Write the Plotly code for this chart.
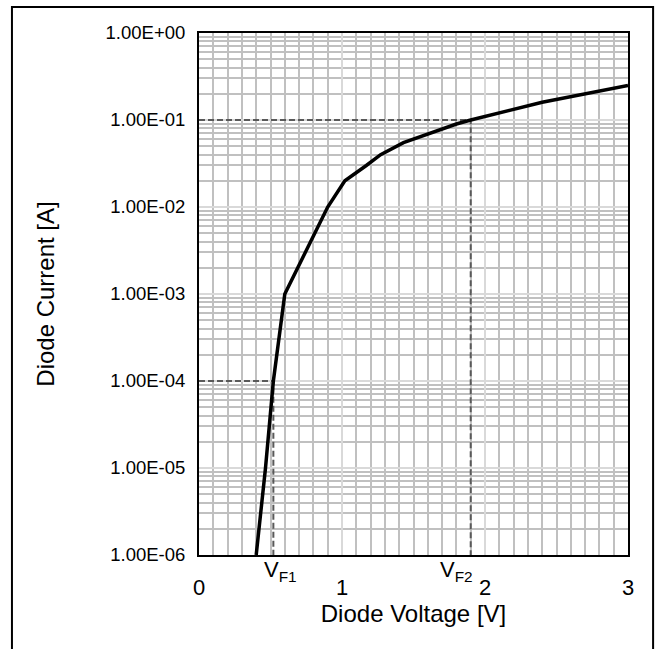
import plotly.graph_objects as go

# Diode forward characteristic (voltage in V, current in A)
voltage = [0.40, 0.465, 0.52, 0.60, 0.90, 1.02, 1.17, 1.27, 1.43, 1.61, 1.80, 1.90, 2.40, 3.00]
current = [1e-6, 1e-5, 1e-4, 1e-3, 1e-2, 2e-2, 3e-2, 4e-2, 5.5e-2, 7e-2, 9e-2, 1e-1, 1.6e-1, 2.5e-1]

# Forward-voltage reference points
vf_labels = ["V<sub>F1</sub>", "V<sub>F2</sub>"]
vf_voltage = [0.52, 1.90]
vf_current = [1e-4, 1e-1]

# Axis ticks
x_ticks = [0, 1, 2, 3]
y_ticks = [1e-6, 1e-5, 1e-4, 1e-3, 1e-2, 1e-1, 1]
y_tick_text = ["1.00E-06", "1.00E-05", "1.00E-04", "1.00E-03", "1.00E-02", "1.00E-01", "1.00E+00"]

FONT = "Liberation Sans, Arial, sans-serif"
Y_MIN = 1e-6

fig = go.Figure()

# dashed guide lines from each axis to the reference point
for v, i in zip(vf_voltage, vf_current):
    fig.add_trace(go.Scatter(
        x=[0, v, v], y=[i, i, Y_MIN], mode="lines",
        line=dict(color="#595959", width=2, dash="6px,3px"),
        hoverinfo="skip", showlegend=False,
    ))

fig.add_trace(go.Scatter(
    x=voltage, y=current, mode="lines",
    line=dict(color="black", width=3.5),
    showlegend=False,
))

# V_F1 sits just right of its guide, V_F2 just left of its guide
label_place = [dict(xanchor="left", xshift=-11), dict(xanchor="right", xshift=4)]
for lbl, v, place in zip(vf_labels, vf_voltage, label_place):
    fig.add_annotation(
        x=v, y=0, xref="x", yref="paper", text=lbl, showarrow=False,
        yanchor="top", yshift=0, **place,
        font=dict(family=FONT, size=22, color="black"),
    )

# outer frame around the whole chart
fig.add_shape(type="rect", xref="paper", yref="paper",
              x0=-0.436, x1=1.0585, y0=-0.2, y1=1.0498,
              line=dict(color="black", width=2), layer="below")

fig.update_layout(
    width=660, height=649,
    margin=dict(l=199, r=32, t=33, b=94),
    paper_bgcolor="white", plot_bgcolor="white",
    font=dict(family=FONT, size=18, color="black"),
    xaxis=dict(
        range=[0, 3], tickvals=x_ticks, ticks="", ticklabelstandoff=12,
        tickfont=dict(family=FONT, size=22, color="black"),
        showgrid=True, gridcolor="#D9D9D9", gridwidth=1.5,
        minor=dict(dtick=0.1, showgrid=True, gridcolor="#C0C0C0", gridwidth=1.5),
        showline=True, linecolor="black", linewidth=2, mirror=True,
        zeroline=False,
        title=dict(text="Diode Voltage [V]", standoff=3,
                   font=dict(family=FONT, size=24, color="black")),
    ),
    yaxis=dict(
        type="log", range=[-6, 0], tickvals=y_ticks, ticktext=y_tick_text,
        ticks="", ticklabelstandoff=8,
        tickfont=dict(family=FONT, size=18.5, color="black"),
        showgrid=True, gridcolor="#D9D9D9", gridwidth=1.5,
        minor=dict(dtick="D1", showgrid=True, gridcolor="#C0C0C0", gridwidth=1.5),
        showline=True, linecolor="black", linewidth=2, mirror=True,
        zeroline=False,
        title=dict(text="Diode Current [A]", standoff=44,
                   font=dict(family=FONT, size=24, color="black")),
    ),
)

fig.write_html("out.html")
